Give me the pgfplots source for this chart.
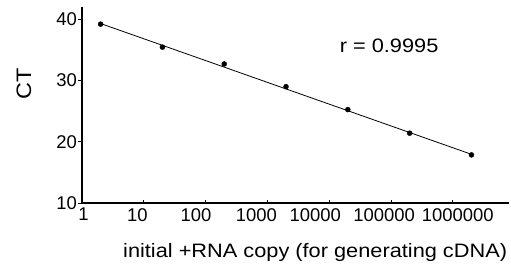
\documentclass[border=0pt]{standalone}
\usepackage{pgfplots}
\pgfplotsset{compat=1.18}
\usepackage{fontspec}
\setmainfont{Liberation Sans}[FakeStretch=1.12]
\newfontfamily\tickfont{Liberation Sans}

\begin{document}
\begin{tikzpicture}
\begin{axis}[
  scale only axis, width=427bp, height=196bp,
  xmode=log, xmin=1, xmax=8.1e6, ymin=10, ymax=42,
  axis x line=bottom, axis y line=left,
  axis line style={-, line width=1.1bp},
  xtick={1,10,100,1000,10000,100000,1000000},
  xticklabels={\kern3bp 1,\kern-13bp 10,\kern-19bp 100,\kern-22bp 1000,\kern-28bp 10000,\kern-14bp 100000,\kern10bp 1000000},
  ytick={10,20,30,40},
  yticklabels={10,20,30,40},
  xminorticks=false, yminorticks=false,
  tick align=inside, major tick length=3.5bp,
  y tick style={xshift=-3.5bp},
  tick style={black, line width=0.8bp},
  ticklabel style={font=\tickfont\fontsize{18.5}{22}\selectfont},
  xticklabel style={yshift=-3bp, inner sep=2pt},
  yticklabel style={xshift=-3bp, inner sep=2pt},
  xlabel={initial +RNA copy (for generating cDNA)},
  ylabel={CT},
  xlabel style={at={(axis description cs:0.546,-0.25)}, anchor=center, font=\fontsize{19.5}{22}\selectfont},
  ylabel style={at={(axis description cs:-0.136,0.61)}, anchor=center, font=\fontsize{21}{24}\selectfont},
  clip=false,
]
\addplot[black, line width=0.8bp] coordinates {(2,39.3) (2000000,17.95)};
\addplot[only marks, mark=*, mark size=2.5bp, black] coordinates {
  (2,39.2) (20,35.45) (200,32.7) (2000,29.0) (20000,25.25) (200000,21.4) (2000000,17.85)};
\node[font=\fontsize{19.5}{22}\selectfont] at (axis cs:93000,35.6) {r = 0.9995};
\coordinate (BL) at (rel axis cs:0,0);
\coordinate (TR) at (rel axis cs:1,1);
\end{axis}
\pgfresetboundingbox
\path ([shift={(-82bp,-64bp)}]BL) rectangle ([shift={(2bp,7bp)}]TR);
\end{tikzpicture}
\end{document}
